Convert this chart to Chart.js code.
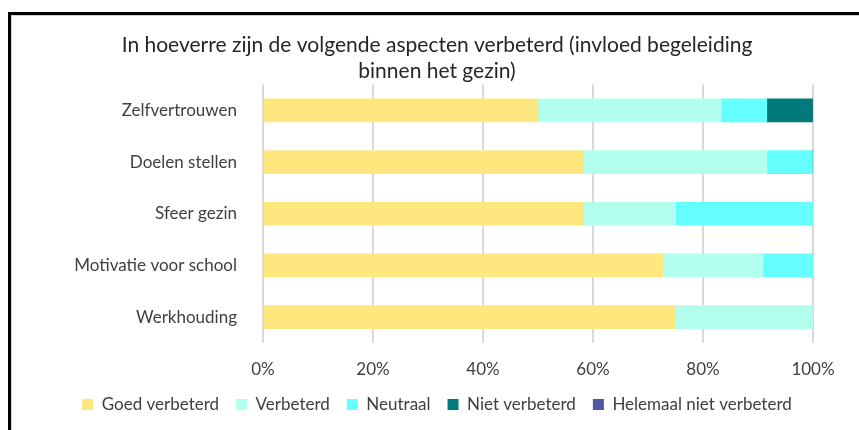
<!DOCTYPE html>
<html>
<head>
<meta charset="utf-8">
<script src="https://cdn.jsdelivr.net/npm/chart.js"></script>
<style>
  body { margin: 0; overflow: hidden; background: #fff; }
  #frame { position: absolute; left: 8px; top: 12px; width: 900px; height: 500px; border: 3px solid #000; box-shadow: inset 1px 1px 0 #d0d0d0; }
  #wrap { position: absolute; left: 0; top: 0; width: 859px; height: 430px; }
</style>
</head>
<body>
<div id="frame"></div>
<div id="wrap"><canvas id="aspectChart"></canvas></div>
<script>
// categories and answers (share of respondents in %)
let categories = ['Zelfvertrouwen', 'Doelen stellen', 'Sfeer gezin', 'Motivatie voor school', 'Werkhouding']
let goedVerbeterd = [50, 58.3, 58.3, 72.7, 75]
let verbeterd = [33.3, 33.3, 16.7, 18.2, 25]
let neutraal = [8.3, 8.3, 25, 9.1, 0]
let nietVerbeterd = [8.3, 0, 0, 0, 0]
let helemaalNiet = [0, 0, 0, 0, 0]
let xTicks = [0, 20, 40, 60, 80, 100]

let font = 'Lato'
let textColor = '#404040'

function makeSet(label, data, color){
    return {
        label: label,
        data: data,
        backgroundColor: color,
        borderWidth: 0,
        barThickness: 23
    }
}

let ctx = document.getElementById('aspectChart').getContext('2d')
let myChart = new Chart(ctx, {
    type: 'bar',
    data: {
        labels: categories,
        datasets: [
            makeSet('Goed verbeterd', goedVerbeterd, '#FFE780'),
            makeSet('Verbeterd', verbeterd, '#B3FFEE'),
            makeSet('Neutraal', neutraal, '#66FFFF'),
            makeSet('Niet verbeterd', nietVerbeterd, '#007A7A'),
            makeSet('Helemaal niet verbeterd', helemaalNiet, '#4E56A6')
        ]
    },
    options: {
        indexAxis: 'y',
        responsive: true,
        maintainAspectRatio: false,
        animation: false,
        layout: { padding: { left: 61, right: 46, top: 0, bottom: 7 } },
        scales: {
            x: {
                stacked: true,
                min: 0,
                max: 100,
                afterBuildTicks: function(scale){ scale.ticks = xTicks.map(v => ({ value: v })) },
                afterFit: function(scale){ scale.height = 36 },
                border: { display: false },
                grid: { color: '#D9D9D9', lineWidth: 2, drawTicks: false },
                ticks: {
                    padding: 16,
                    color: textColor,
                    font: { family: font, size: 17 },
                    callback: v => v + '%'
                }
            },
            y: {
                stacked: true,
                afterFit: function(scale){ scale.width = 202 },
                border: { display: false },
                grid: { display: false },
                ticks: {
                    padding: 18,
                    color: textColor,
                    font: { family: font, size: 17 }
                }
            }
        },
        plugins: {
            title: {
                display: true,
                text: ['In hoeverre zijn de volgende aspecten verbeterd (invloed begeleiding', 'binnen het gezin)'],
                color: '#262626',
                font: { family: font, size: 21, weight: 'normal', lineHeight: 1.25 },
                padding: { top: 32, bottom: 0 }
            },
            legend: {
                position: 'bottom',
                labels: {
                    boxWidth: 11,
                    boxHeight: 11,
                    padding: 17,
                    color: textColor,
                    font: { family: font, size: 17 }
                }
            },
            tooltip: { enabled: false }
        }
    }
})
</script>
</body>
</html>
